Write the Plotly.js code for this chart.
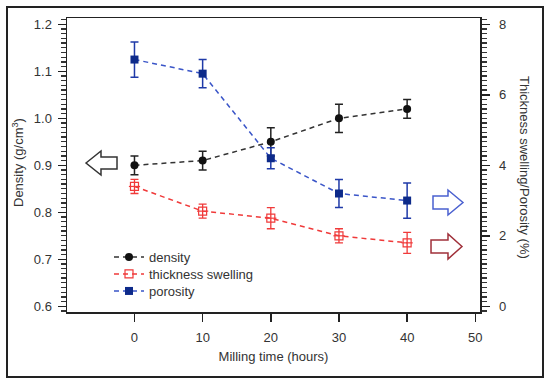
<!DOCTYPE html>
<html>
<head>
<meta charset="utf-8">
<script src="https://cdn.plot.ly/plotly-3.0.1.min.js"></script>
<style>html,body{margin:0;padding:0;background:#fff;}#chart{width:550px;height:386px;}</style>
</head>
<body>
<div id="chart"></div>
<script>
// ---- data ----
const millingTime = [0, 10, 20, 30, 40];
const density = [0.90, 0.91, 0.95, 1.00, 1.02];
const densityErr = [0.02, 0.02, 0.03, 0.03, 0.02];
const swelling = [3.4, 2.7, 2.5, 2.0, 1.8];
const swellingErr = [0.2, 0.2, 0.3, 0.2, 0.3];
const porosity = [7.0, 6.6, 4.2, 3.2, 3.0];
const porosityErr = [0.5, 0.4, 0.3, 0.4, 0.5];
const xTickStart = 0, xTickStep = 10;
const leftTickStart = 0.6, leftTickStep = 0.1, leftMinorStep = 0.01;
const rightTickStart = 0, rightTickStep = 2, rightMinorStep = 2 / 15;

// ---- layout geometry ----
const W = 550, H = 386;
const M = {l: 67, r: 70, t: 18, b: 74};
const PW = W - M.l - M.r, PH = H - M.t - M.b;
const px = v => (v - M.l) / PW;
const py = v => (H - M.b - v) / PH;

function arrowPath(tipX, baseX, endX, cy, headH, shaftH) {
  const pts = [
    [tipX, cy], [baseX, cy - headH], [baseX, cy - shaftH], [endX, cy - shaftH],
    [endX, cy + shaftH], [baseX, cy + shaftH], [baseX, cy + headH]
  ];
  return 'M' + pts.map(p => px(p[0]).toFixed(4) + ',' + py(p[1]).toFixed(4)).join(' L') + ' Z';
}

const dash = '5px,4px';
const textCol = '#333';
const font = {family: 'Liberation Sans, Arial, sans-serif', size: 13, color: textCol};

const traces = [
  {
    x: millingTime, y: density, name: 'density', type: 'scatter', mode: 'lines+markers',
    legend: 'legend',
    line: {color: '#333', width: 1.5, dash: dash},
    marker: {symbol: 'circle', size: 8, color: '#111'},
    error_y: {type: 'data', array: densityErr, visible: true, color: '#222', thickness: 1.5, width: 4}
  },
  {
    x: millingTime, y: swelling, name: 'thickness swelling', type: 'scatter', mode: 'lines+markers',
    yaxis: 'y2', legend: 'legend2',
    line: {color: '#f03a3a', width: 1.5, dash: dash},
    marker: {symbol: 'square-open', size: 8, color: '#f03a3a', line: {width: 1.2, color: '#f03a3a'}},
    error_y: {type: 'data', array: swellingErr, visible: true, color: '#f03a3a', thickness: 1.3, width: 4}
  },
  {
    x: millingTime, y: swelling, name: 'thickness swelling bar', type: 'scatter', mode: 'markers',
    yaxis: 'y2', showlegend: false, hoverinfo: 'skip',
    marker: {symbol: 'line-ew', size: 8, color: '#f03a3a', line: {width: 1.2, color: '#f03a3a'}}
  },
  {
    x: millingTime, y: porosity, name: 'porosity', type: 'scatter', mode: 'lines+markers',
    yaxis: 'y2', legend: 'legend3',
    line: {color: '#3a55c8', width: 1.5, dash: dash},
    marker: {symbol: 'square', size: 8, color: '#0d2a8a'},
    error_y: {type: 'data', array: porosityErr, visible: true, color: '#1f3aa8', thickness: 1.5, width: 4}
  }
];

const yLo = 0.6 - 5.7 / 470, yHi = 1.2 + 6.3 / 470;
const toRight = v => (v - 0.6) * 8 / 0.6;

function legendAt(rowCenter) {
  return {
    x: px(109), y: py(rowCenter - 15), xanchor: 'left', yanchor: 'top',
    bgcolor: 'rgba(0,0,0,0)', font: font
  };
}

const minorTicks = (tick0, dtick) => ({
  tickmode: 'linear', tick0: tick0, dtick: dtick,
  ticks: 'outside', ticklen: 5, tickwidth: 1.3, tickcolor: '#333', showgrid: false
});

const layout = {
  width: W, height: H,
  margin: M,
  paper_bgcolor: '#fff', plot_bgcolor: '#fff',
  font: font,
  showlegend: true,
  legend: legendAt(257),
  legend2: legendAt(274),
  legend3: legendAt(291),
  xaxis: {
    range: [-9.9, 50.69], tickmode: 'linear', tick0: xTickStart, dtick: xTickStep,
    ticks: 'outside', ticklen: 8, tickwidth: 1.5, ticklabelstandoff: 5,
    tickcolor: '#222', showline: true, linecolor: '#222', linewidth: 1.5, mirror: true,
    showgrid: false, zeroline: false, tickfont: font,
    title: {text: 'Milling time (hours)', font: font, standoff: 8}
  },
  yaxis: {
    range: [yLo, yHi], tickmode: 'linear', tick0: leftTickStart, dtick: leftTickStep, tickformat: '.1f',
    ticks: 'outside', ticklen: 8, tickwidth: 1.5, tickcolor: '#222', ticklabelstandoff: 3,
    showline: true, linecolor: '#222', linewidth: 1.5, showgrid: false, zeroline: false,
    tickfont: font,
    minor: minorTicks(leftTickStart, leftMinorStep)
  },
  yaxis2: {
    overlaying: 'y', side: 'right',
    range: [toRight(yLo), toRight(yHi)], tickmode: 'linear', tick0: rightTickStart, dtick: rightTickStep,
    ticks: 'outside', ticklen: 8, tickwidth: 1.5, tickcolor: '#222', ticklabelstandoff: 7,
    showline: true, linecolor: '#222', linewidth: 1.5, showgrid: false, zeroline: false,
    tickfont: font,
    minor: minorTicks(rightTickStart, rightMinorStep)
  },
  annotations: [
    {text: 'Density (g/cm<sup>3</sup>)', xref: 'paper', yref: 'paper', x: px(18), y: py(163),
     textangle: -90, showarrow: false, font: font, xanchor: 'center', yanchor: 'middle'},
    {text: 'Thickness swelling/Porosity (%)', xref: 'paper', yref: 'paper', x: px(525), y: py(167),
     textangle: 90, showarrow: false, font: font, xanchor: 'center', yanchor: 'middle'}
  ],
  shapes: [
    {type: 'rect', xref: 'paper', yref: 'paper', x0: px(7), x1: px(543), y0: py(377), y1: py(7),
     line: {color: '#222', width: 2}, fillcolor: 'rgba(0,0,0,0)'},
    {type: 'path', xref: 'paper', yref: 'paper', path: arrowPath(86, 101, 117, 163, 12, 6),
     line: {color: '#333', width: 1.5}, fillcolor: '#fff'},
    {type: 'path', xref: 'paper', yref: 'paper', path: arrowPath(463, 448, 433, 202.5, 12.5, 6.5),
     line: {color: '#4a60d0', width: 1.5}, fillcolor: '#fff'},
    {type: 'path', xref: 'paper', yref: 'paper', path: arrowPath(462, 448, 431, 246.5, 12.5, 6.5),
     line: {color: '#a0303a', width: 1.5}, fillcolor: '#fff'}
  ]
};

Plotly.newPlot('chart', traces, layout, {displayModeBar: false, staticPlot: true});
</script>
</body>
</html>
